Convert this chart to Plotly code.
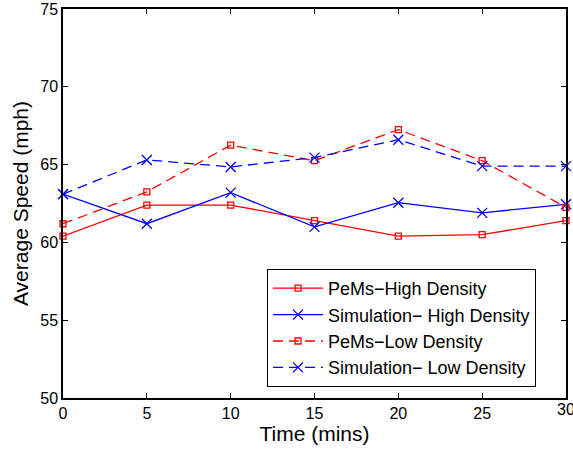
import plotly.graph_objects as go

time_mins = [0, 5, 10, 15, 20, 25, 30]
pems_high = [60.4, 62.4, 62.4, 61.4, 60.4, 60.5, 61.4]
sim_high = [63.1, 61.2, 63.2, 61.0, 62.55, 61.9, 62.45]
pems_low = [61.2, 63.25, 66.25, 65.25, 67.25, 65.25, 62.25]
sim_low = [63.1, 65.3, 64.85, 65.45, 66.6, 64.9, 64.9]
x_ticks = [0, 5, 10, 15, 20, 25, 30]
y_ticks = [50, 55, 60, 65, 70, 75]

names = ["PeMs\u2212High Density", "Simulation\u2212 High Density",
         "PeMs\u2212Low Density", "Simulation\u2212 Low Density"]

fig = go.Figure()
series = [
    (pems_high, names[0], "red", "solid", "square-open", 6),
    (sim_high, names[1], "blue", "solid", "x-thin-open", 10),
    (pems_low, names[2], "red", "10px,6px", "square-open", 6),
    (sim_low, names[3], "blue", "10px,6px", "x-thin-open", 10),
]
for ys, nm, col, dash, sym, sz in series:
    fig.add_trace(go.Scatter(
        x=time_mins, y=ys, name=nm, mode="lines+markers",
        line=dict(color=col, width=1.3, dash=dash),
        marker=dict(symbol=sym, size=sz, color=col, line=dict(color=col, width=1.3)),
        cliponaxis=False,
    ))

tick_font = dict(family="Liberation Sans, Arial", size=16, color="black")
axis_common = dict(
    showline=True, linecolor="black", linewidth=1.5, mirror="ticks",
    ticks="inside", ticklen=5, tickcolor="black", tickwidth=1,
    showgrid=False, zeroline=False, automargin=False,
    tickfont=tick_font,
)

# last x tick label overflows the page edge (drawn as text so it is not dropped)
fig.add_annotation(x=x_ticks[-1], xref="x", y=0, yref="paper",
                   yanchor="top", xanchor="center", yshift=-1,
                   text=str(x_ticks[-1]), showarrow=False, font=tick_font)

fig.update_layout(
    width=573, height=451,
    margin=dict(l=63, r=7, t=9, b=53),
    paper_bgcolor="white", plot_bgcolor="white",
    font=dict(family="Liberation Sans, Arial", color="black"),
    xaxis=dict(range=[0, 30], tickvals=x_ticks,
               title=dict(text="Time (mins)", font=dict(size=21), standoff=2),
               **axis_common),
    yaxis=dict(range=[50, 75], tickvals=y_ticks,
               title=dict(text="Average Speed (mph)", font=dict(size=21), standoff=6),
               **axis_common),
    legend=dict(
        x=0.4056, y=0.3316, xanchor="left", yanchor="top",
        bordercolor="black", borderwidth=1, bgcolor="white",
        font=dict(family="Liberation Sans, Arial", size=18, color="black"),
        tracegroupgap=0, itemwidth=50,
    ),
    showlegend=True,
)

fig.write_html("out.html")
